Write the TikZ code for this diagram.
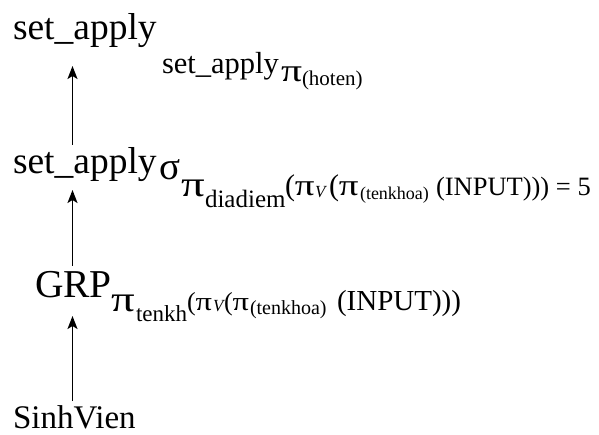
\documentclass[tikz,border=0pt]{standalone}
\usepackage{fontspec}
\usepackage{graphicx}
\setmainfont{Liberation Serif}
\usetikzlibrary{arrows.meta}
\newcommand{\fsz}[1]{\fontsize{#1}{#1}\selectfont}
\newcommand{\wpi}[1]{\scalebox{#1}[1]{π}}
\begin{document}
\begin{tikzpicture}[x=1pt,y=-1pt,
  txt/.style={inner sep=0pt,outer sep=0pt,anchor=base west},
  arr/.style={line width=1.6pt,-{Stealth[length=13pt,width=10pt,inset=3pt]}}]
\useasboundingbox (0,0) rectangle (599,435);
% row 1
\node[txt] (a1) at (13,40) {\fsz{37.5}set\_apply};
\node[txt] (a2) at (162,74) {\fsz{30.5}set\_apply};
\node[txt] (a3) at (281,82) {\fsz{32}\wpi{1.3}};
\node[txt] (a4) at (302,86) {\fsz{21}(hoten)};
% row 2
\node[txt] (b1) at (13,174) {\fsz{37.5}set\_apply};
\node[txt] (b2) at (159,180) {\fsz{39}σ};
\node[txt] (b3) at (181,197) {\fsz{36}\wpi{1.3}};
\node[txt] (b4) at (205,208) {\fsz{25}diadiem};
\node[txt] (b5) at (285,196) {\fsz{30}(\wpi{1.3}};
\node[txt] (b6) at (315,198) {\fsz{17}\itshape V};
\node[txt] (b7) at (329,196) {\fsz{30}(\wpi{1.3}};
\node[txt] (b8) at (360,200) {\fsz{18}(tenkhoa)};
\node[txt] (b9) at (436,196) {\fsz{26.5}(INPUT))) = 5};
% row 3
\node[txt] (c1) at (35,298) {\fsz{39.5}GRP};
\node[txt] (c2) at (111,311) {\fsz{36}\wpi{1.3}};
\node[txt] (c3) at (136,321) {\fsz{23}tenkh};
\node[txt] (c4) at (187,310) {\fsz{26}(\wpi{1.25}};
\node[txt] (c5) at (213,312) {\fsz{17}\itshape V};
\node[txt] (c6) at (224,310) {\fsz{26}(\wpi{1.25}};
\node[txt] (c7) at (250,314) {\fsz{20}(tenkhoa)};
\node[txt] (c8) at (337,310) {\fsz{29}(INPUT)))};
% row 4
\node[txt] (d1) at (13,428) {\fsz{33}SinhVien};
% arrows
\coordinate (t1) at (72.5,66);  \coordinate (s1) at (72.5,145);
\coordinate (t2) at (72.5,190); \coordinate (s2) at (72.5,266);
\coordinate (t3) at (72.5,316); \coordinate (s3) at (72.5,401);
\draw[arr] (s1) -- (t1);
\draw[arr] (s2) -- (t2);
\draw[arr] (s3) -- (t3);
\end{tikzpicture}
\end{document}
